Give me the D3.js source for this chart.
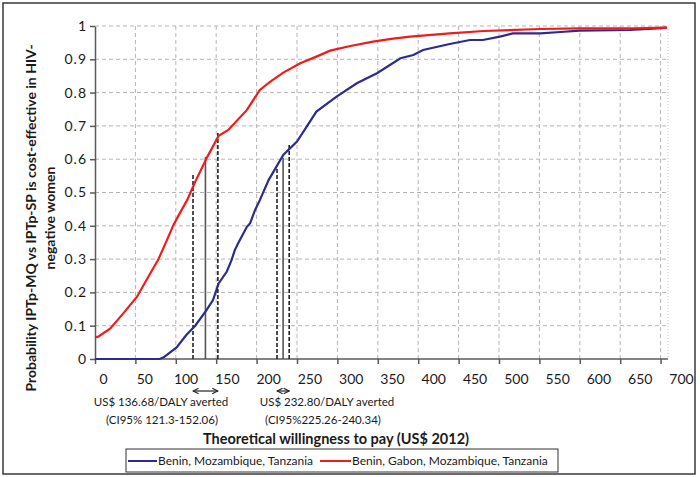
<!DOCTYPE html>
<html>
<meta charset="utf-8">
<script src="https://d3js.org/d3.v7.min.js"></script>
<style>
  body { margin: 0; background: #fff; }
  text { font-family: Lato, "Open Sans", sans-serif; fill: #1a1a1a; }
</style>
<body>
<div id="plot_area"></div>
</body>
<script>

// willingness to pay (US$ 2012) and probability cost-effective
var blueX = [0, 80, 85, 101, 113, 124, 138, 146, 153, 163, 169, 173, 177, 188, 192, 198, 204, 215, 233, 250, 262, 274, 299, 324, 349, 378, 394, 406, 439, 464, 480, 501, 517, 551, 576, 600, 662, 696, 708];
var blueY = [0, 0, 0.005, 0.035, 0.072, 0.1, 0.147, 0.177, 0.227, 0.262, 0.297, 0.327, 0.347, 0.397, 0.408, 0.447, 0.477, 0.538, 0.613, 0.653, 0.698, 0.743, 0.788, 0.828, 0.858, 0.903, 0.913, 0.928, 0.946, 0.958, 0.958, 0.968, 0.978, 0.978, 0.982, 0.986, 0.988, 0.993, 0.995];

var redX = [0, 4, 19, 35, 52, 66, 78, 89, 97, 105, 114, 124, 139, 153, 165, 188, 204, 217, 233, 254, 274, 291, 316, 344, 369, 390, 439, 481, 551, 600, 666, 708];
var redY = [0.065, 0.067, 0.092, 0.137, 0.187, 0.247, 0.297, 0.357, 0.402, 0.438, 0.477, 0.532, 0.607, 0.670, 0.688, 0.748, 0.808, 0.833, 0.860, 0.888, 0.908, 0.926, 0.940, 0.953, 0.962, 0.968, 0.978, 0.985, 0.991, 0.993, 0.993, 0.995];

// ICER and CI95 bounds, with the height each guide line reaches
var redIcer = [121.3, 136.68, 152.06];
var redIcerTop = [0.558, 0.607, 0.679];
var blueIcer = [225.26, 232.80, 240.34];
var blueIcerTop = [0.574, 0.604, 0.643];

var xTickLabels = [0, 50, 100, 150, 200, 250, 300, 350, 400, 450, 500, 550, 600, 650, 700];
var yTicks = [0, 0.1, 0.2, 0.3, 0.4, 0.5, 0.6, 0.7, 0.8, 0.9, 1];
var yTickLabels = ["0", "0.1", "0.2", "0.3", "0.4", "0.5", "0.6", "0.7", "0.8", "0.9", "1"];

var seriesNames = ["Benin, Mozambique, Tanzania", "Benin, Gabon, Mozambique, Tanzania"];
var blue = "#2b2b92", red = "#f21a1a";

var width = 700, height = 477;
var pLeft = 95, pRight = 668, pTop = 26, pBottom = 359;

var svg = d3.select("#plot_area")
  .append("svg")
    .attr("width", width)
    .attr("height", height);

// outer frame
svg.append("rect")
  .attr("x", 3).attr("y", 3)
  .attr("width", 692).attr("height", 471)
  .attr("fill", "none")
  .attr("stroke", "#3a3a3a")
  .attr("stroke-width", 1.5);

var x = d3.scaleLinear()
  .domain([0, 700])
  .range([pLeft, 660.6]);

// tick labels sit a bit off the tick marks in the original
var xl = d3.scaleLinear()
  .domain([0, 700])
  .range([103, 681]);

var y = d3.scaleLinear()
  .domain([0, 1])
  .range([pBottom, pTop]);

// grid
svg.append("g")
  .selectAll("line")
  .data(yTicks.slice(1))
  .enter()
  .append("line")
    .attr("x1", pLeft).attr("x2", pRight)
    .attr("y1", function(d) { return y(d); })
    .attr("y2", function(d) { return y(d); })
    .attr("stroke", "#b5b5b5")
    .attr("stroke-dasharray", "4,3");

svg.append("g")
  .selectAll("line")
  .data(xTickLabels.slice(1))
  .enter()
  .append("line")
    .attr("x1", function(d) { return x(d); })
    .attr("x2", function(d) { return x(d); })
    .attr("y1", pTop).attr("y2", pBottom)
    .attr("stroke", "#b5b5b5")
    .attr("stroke-dasharray", "4,3");

svg.append("line")
  .attr("x1", pRight).attr("x2", pRight)
  .attr("y1", pTop).attr("y2", pBottom)
  .attr("stroke", "#c8c8c8")
  .attr("stroke-dasharray", "1,2");

// axes
var xAxis = svg.append("g")
  .attr("transform", "translate(0," + pBottom + ")")
  .call(d3.axisBottom(x).tickValues(xTickLabels).tickSize(5).tickSizeOuter(0).tickFormat(""));
xAxis.select(".domain").attr("d", "M" + pLeft + ",0H" + pRight);
xAxis.selectAll("line, path").attr("stroke", "#5a5a5a").attr("stroke-width", 1.5);

svg.append("g")
  .attr("transform", "translate(0," + (pBottom + 12) + ")")
  .call(d3.axisBottom(xl).tickValues(xTickLabels).tickSize(0))
  .call(function(g) { g.select(".domain").remove(); })
  .selectAll("text")
    .style("font-size", "14px")
    .attr("fill", "#1a1a1a");

var yAxis = svg.append("g")
  .attr("transform", "translate(" + pLeft + ",0)")
  .call(d3.axisLeft(y).tickValues(yTicks).tickSize(5).tickSizeOuter(0)
    .tickFormat(function(d, i) { return yTickLabels[i]; }));
yAxis.selectAll("line, path").attr("stroke", "#5a5a5a").attr("stroke-width", 1.5);
yAxis.selectAll("text")
  .attr("x", -8)
  .style("font-size", "14px")
  .style("letter-spacing", "1px")
  .attr("fill", "#1a1a1a");

// ICER guide lines
function guides(vals, tops) {
  var g = svg.append("g");
  vals.forEach(function(v, i) {
    g.append("line")
      .attr("x1", x(v)).attr("x2", x(v))
      .attr("y1", pBottom).attr("y2", y(tops[i]))
      .attr("stroke", i == 1 ? "#555" : "#222")
      .attr("stroke-width", 1.6)
      .attr("stroke-dasharray", i == 1 ? null : "4,2");
  });
}
guides(redIcer, redIcerTop);
guides(blueIcer, blueIcerTop);

// curves
var line = d3.line()
  .x(function(d) { return x(d[0]); })
  .y(function(d) { return y(d[1]); });

svg.append("path")
  .datum(blueX.map(function(v, i) { return [v, blueY[i]]; }))
  .attr("d", line)
  .attr("fill", "none")
  .attr("stroke", blue)
  .attr("stroke-width", 2.2);

svg.append("path")
  .datum(redX.map(function(v, i) { return [v, redY[i]]; }))
  .attr("d", line)
  .attr("fill", "none")
  .attr("stroke", red)
  .attr("stroke-width", 2.2);

// CI arrows under the axis
svg.append("defs").append("marker")
  .attr("id", "head")
  .attr("viewBox", "0 0 10 10")
  .attr("refX", 9).attr("refY", 5)
  .attr("markerWidth", 7).attr("markerHeight", 7)
  .attr("markerUnits", "userSpaceOnUse")
  .attr("orient", "auto-start-reverse")
  .append("path")
    .attr("d", "M1,1L9,5L1,9")
    .attr("fill", "none")
    .attr("stroke", "#222")
    .attr("stroke-width", 1.5);

[[redIcer[0], redIcer[2]], [blueIcer[0], blueIcer[2]]].forEach(function(r) {
  svg.append("line")
    .attr("x1", x(r[0])).attr("x2", x(r[1]))
    .attr("y1", 391).attr("y2", 391)
    .attr("stroke", "#222")
    .attr("stroke-width", 1.2)
    .attr("marker-start", "url(#head)")
    .attr("marker-end", "url(#head)");
});

var notes = [
  ["US$ " + redIcer[1].toFixed(2) + "/DALY averted", 161, 406],
  ["(CI95% " + redIcer[0] + "-" + redIcer[2].toFixed(2) + ")", 162, 424],
  ["US$ " + blueIcer[1].toFixed(2) + "/DALY averted", 327, 406],
  ["(CI95%" + blueIcer[0].toFixed(2) + "-" + blueIcer[2].toFixed(2) + ")", 323, 424]
];
svg.append("g")
  .selectAll("text")
  .data(notes)
  .enter()
  .append("text")
    .attr("x", function(d) { return d[1]; })
    .attr("y", function(d) { return d[2]; })
    .attr("text-anchor", "middle")
    .style("font-size", "11.5px")
    .text(function(d) { return d[0]; });

// axis titles
svg.append("text")
  .attr("x", 336).attr("y", 444)
  .attr("text-anchor", "middle")
  .style("font-size", "14.5px")
  .style("font-weight", "bold")
  .text("Theoretical willingness to pay (US$ 2012)");

var yt = svg.append("text")
  .attr("transform", "translate(0,218) rotate(-90)")
  .attr("text-anchor", "middle")
  .style("font-size", "14px")
  .style("font-weight", "bold");
yt.append("tspan").attr("x", 0).attr("y", 36)
  .text("Probability IPTp-MQ vs IPTp-SP is cost-effective in HIV-");
yt.append("tspan").attr("x", 0).attr("y", 55)
  .text("negative women");

// legend
var lg = svg.append("g");
lg.append("rect")
  .attr("x", 126).attr("y", 449)
  .attr("width", 432).attr("height", 23)
  .attr("fill", "#fff")
  .attr("stroke", "#333");
[[128, 157, blue, seriesNames[0]], [320, 351, red, seriesNames[1]]].forEach(function(d) {
  lg.append("line")
    .attr("x1", d[0]).attr("x2", d[1])
    .attr("y1", 461).attr("y2", 461)
    .attr("stroke", d[2])
    .attr("stroke-width", 2);
  lg.append("text")
    .attr("x", d[1] + 1).attr("y", 465)
    .style("font-size", "12px")
    .text(d[3]);
});

</script>
</html>
